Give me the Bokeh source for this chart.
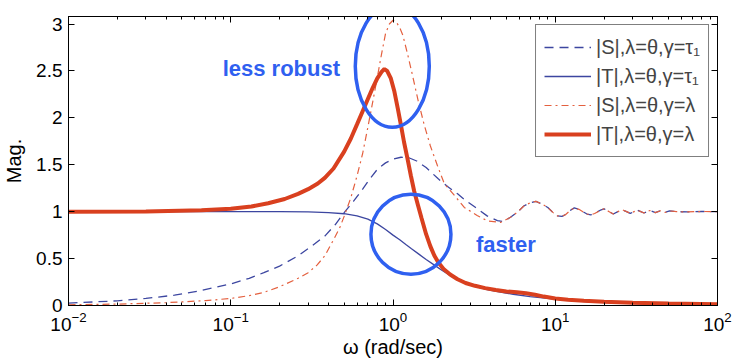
from bokeh.plotting import figure
from bokeh.models import (LogAxis, LinearAxis, FixedTicker, LogTicker,
                          CustomJSTickFormatter, Legend, LegendItem)
from bokeh.core.properties import value
from bokeh.embed import file_html
from bokeh.resources import INLINE

# ---------------- data ----------------
# |S|, lambda=theta, gamma=tau1  (blue dashed)
w_S_tau = [0.01, 0.02, 0.03, 0.045, 0.066, 0.1, 0.13, 0.16, 0.2, 0.26, 0.32, 0.38,
           0.44, 0.5, 0.57, 0.65, 0.72, 0.8, 0.9, 1.0, 1.12, 1.25, 1.4, 1.6, 1.9,
           2.2, 2.5, 2.8, 3.2, 3.8, 4.4, 4.8, 5.3, 5.9, 6.4, 7.0, 7.6, 8.2, 9.0,
           9.7, 10.3, 11.0, 11.6, 12.3, 13.1, 14.0, 14.8, 15.7, 16.6, 17.5, 18.3,
           19.2, 20.0, 21.5, 22.8, 24.3, 25.9, 27.5, 29.0, 30.6, 32.1, 33.7, 35.2,
           36.8, 38.3, 41.4, 44.5, 47.6, 50.7, 56, 65, 80, 100]
S_tau = [0.025, 0.05, 0.075, 0.11, 0.16, 0.23, 0.29, 0.35, 0.42, 0.53, 0.64, 0.74,
         0.86, 0.99, 1.11, 1.24, 1.35, 1.45, 1.52, 1.56, 1.58, 1.575, 1.54, 1.47,
         1.35, 1.26, 1.19, 1.12, 1.05, 0.955, 0.905, 0.895, 0.94, 1.0, 1.06,
         1.095, 1.11, 1.085, 1.045, 0.99, 0.956, 0.95, 0.97, 1.01, 1.04, 1.025,
         1.0, 0.975, 0.967, 0.98, 1.0, 1.02, 1.03, 1.0, 0.975, 1.0, 1.02, 1.0,
         0.982, 1.0, 1.015, 1.0, 0.986, 1.0, 1.012, 0.99, 1.01, 0.992, 1.008,
         1.0, 0.997, 1.002, 1.0]

# |T|, lambda=theta, gamma=tau1  (blue solid)
w_T_tau = [0.01, 0.03, 0.1, 0.2, 0.3, 0.4, 0.5, 0.6, 0.7, 0.8, 0.9, 1.0, 1.1, 1.2,
           1.3, 1.45, 1.6, 1.8, 2.0, 2.3, 2.7, 3.2, 3.8, 4.5, 5.5, 7.0, 9.0, 12,
           16, 25, 40, 60, 100]
T_tau = [1.0, 1.0, 1.0, 1.0, 0.997, 0.99, 0.978, 0.955, 0.92, 0.87, 0.81, 0.75,
         0.70, 0.65, 0.605, 0.545, 0.49, 0.43, 0.375, 0.31, 0.25, 0.205, 0.17,
         0.145, 0.12, 0.095, 0.075, 0.055, 0.04, 0.025, 0.015, 0.01, 0.006]

# |S|, lambda=theta, gamma=lambda  (red dash-dot)
w_S_lam = [0.01, 0.02, 0.04, 0.07, 0.1, 0.13, 0.16, 0.2, 0.26, 0.3, 0.34, 0.38,
           0.43, 0.47, 0.5, 0.55, 0.6, 0.65, 0.7, 0.75, 0.8, 0.85, 0.9, 0.95, 1.0,
           1.05, 1.1, 1.15, 1.23, 1.32, 1.43, 1.56, 1.7, 1.88, 2.07, 2.4, 2.75,
           3.3, 3.83, 4.6, 5.3, 5.9, 6.4, 7.0, 7.6, 8.2, 9.0, 9.7, 10.3, 11.0,
           11.6, 12.3, 13.1, 14.0, 14.8, 15.7, 16.6, 17.5, 18.3, 19.2, 20.0, 21.5,
           22.8, 24.3, 25.9, 27.5, 29.0, 30.6, 32.1, 33.7, 35.2, 36.8, 38.3, 41.4,
           44.5, 47.6, 50.7, 56, 65, 80, 100]
S_lam = [0.008, 0.015, 0.03, 0.052, 0.075, 0.105, 0.14, 0.2, 0.29, 0.35, 0.43,
         0.53, 0.70, 0.83, 0.95, 1.15, 1.38, 1.62, 1.90, 2.17, 2.43, 2.68, 2.90,
         3.0, 3.04, 3.02, 2.96, 2.88, 2.68, 2.45, 2.18, 1.92, 1.70, 1.49, 1.30,
         1.17, 1.045, 0.96, 0.90, 0.885, 0.94, 1.0, 1.06, 1.095, 1.11, 1.085,
         1.045, 0.99, 0.956, 0.95, 0.97, 1.01, 1.04, 1.025, 1.0, 0.975, 0.967,
         0.98, 1.0, 1.02, 1.03, 1.0, 0.975, 1.0, 1.02, 1.0, 0.982, 1.0, 1.015,
         1.0, 0.986, 1.0, 1.012, 0.99, 1.01, 0.992, 1.008, 1.0, 0.997, 1.002, 1.0]

# |T|, lambda=theta, gamma=lambda  (red thick)
w_T_lam = [0.01, 0.03, 0.066, 0.1, 0.134, 0.17, 0.215, 0.26, 0.3, 0.344, 0.38,
           0.43, 0.5, 0.55, 0.6, 0.65, 0.7, 0.75, 0.8, 0.85, 0.885, 0.92, 0.97,
           1.02, 1.07, 1.12, 1.17, 1.23, 1.29, 1.35, 1.42, 1.5, 1.6, 1.7, 1.8,
           1.9, 2.05, 2.25, 2.5, 2.8, 3.2, 3.7, 4.3, 5.0, 5.8, 6.6, 7.5, 8.5, 10,
           12, 15, 20, 30, 50, 100]
T_lam = [1.0, 1.003, 1.015, 1.03, 1.055, 1.09, 1.135, 1.19, 1.24, 1.30, 1.36,
         1.46, 1.64, 1.78, 1.93, 2.07, 2.20, 2.32, 2.42, 2.49, 2.52, 2.50, 2.42,
         2.28, 2.10, 1.92, 1.74, 1.56, 1.38, 1.22, 1.08, 0.93, 0.76, 0.63, 0.53,
         0.46, 0.39, 0.33, 0.28, 0.24, 0.21, 0.185, 0.165, 0.15, 0.14, 0.13,
         0.115, 0.095, 0.075, 0.062, 0.05, 0.04, 0.03, 0.02, 0.012]

legend_labels = ["|S|,λ=θ,γ=τ₁", "|T|,λ=θ,γ=τ₁", "|S|,λ=θ,γ=λ", "|T|,λ=θ,γ=λ"]
y_ticks = [0, 0.5, 1, 1.5, 2, 2.5, 3]

# annotations
note_text = ["less robust", "faster"]
note_x = [0.205, 4.96]
note_y = [2.53, 0.645]
ell_x = [0.99, 1.29]
ell_y = [2.55, 0.76]
ell_w = [74, 80]
ell_h = [122, 80]

# ---------------- figure ----------------
FONT = "Liberation Sans"
BLUE = "#3c46a0"
RED = "#d9401f"
RED_LIGHT = "#e4603f"
ANNOT = "#2f60f0"

p = figure(width=735, height=361, x_axis_type="log", x_range=(0.01, 100),
           y_range=(0, 3.08), output_backend="svg", toolbar_location=None,
           min_border_left=67, min_border_right=18, min_border_top=16,
           min_border_bottom=56)
p.grid.visible = False
p.outline_line_color = "black"
p.outline_line_width = 1
p.background_fill_color = "white"
p.border_fill_color = "white"

r1 = p.line(w_S_tau, S_tau, line_color=BLUE, line_width=1.3, line_dash="9 6")
r2 = p.line(w_T_tau, T_tau, line_color=BLUE, line_width=1.3)
r3 = p.line(w_S_lam, S_lam, line_color=RED_LIGHT, line_width=1.2, line_dash="7 4 2 4")
r4 = p.line(w_T_lam, T_lam, line_color=RED, line_width=4)

p.ellipse(x=ell_x, y=ell_y, width=ell_w, height=ell_h, width_units="screen",
          height_units="screen", fill_color=None, line_color=ANNOT, line_width=3.5)
p.text(x=note_x, y=note_y, text=note_text, text_font=value(FONT),
       text_font_style="bold", text_font_size="22px", text_color=ANNOT,
       text_align="center", text_baseline="middle")

# axes
p.xaxis.ticker = LogTicker(num_minor_ticks=10)
p.yaxis.ticker = FixedTicker(ticks=y_ticks)
p.yaxis.formatter = CustomJSTickFormatter(code="return tick.toString();")
p.xaxis.axis_label = "ω (rad/sec)"
p.yaxis.axis_label = "Mag."

for ax in [p.xaxis[0], p.yaxis[0]]:
    ax.major_tick_in = 6
    ax.major_tick_out = 0
    ax.minor_tick_in = 3
    ax.minor_tick_out = 0
    ax.axis_line_color = "black"
    ax.major_tick_line_color = "black"
    ax.minor_tick_line_color = "black"
    ax.major_label_text_font = FONT
    ax.major_label_text_font_size = "19px"
    ax.major_label_text_color = "black"
    ax.axis_label_text_font = FONT
    ax.axis_label_text_font_size = "20px"
    ax.axis_label_text_font_style = "normal"
    ax.axis_label_text_color = "black"
p.xaxis.major_label_standoff = 6
p.xaxis.axis_label_standoff = 2
p.yaxis.major_label_standoff = 6
p.yaxis.axis_label_standoff = 8
p.yaxis.minor_tick_in = 0

blank = CustomJSTickFormatter(code="return '';")
top = LogAxis(ticker=LogTicker(num_minor_ticks=10), formatter=blank,
              major_tick_in=6, major_tick_out=0, minor_tick_in=3, minor_tick_out=0,
              major_label_text_font_size="2px", major_label_standoff=0,
              axis_line_color="black")
right = LinearAxis(ticker=FixedTicker(ticks=y_ticks), formatter=blank,
                   major_tick_in=6, major_tick_out=0, minor_tick_in=0, minor_tick_out=0,
                   major_label_text_font_size="2px", major_label_standoff=0,
                   axis_line_color="black")
p.add_layout(top, "above")
p.add_layout(right, "right")

legend = Legend(items=[LegendItem(label=legend_labels[0], renderers=[r1]),
                       LegendItem(label=legend_labels[1], renderers=[r2]),
                       LegendItem(label=legend_labels[2], renderers=[r3]),
                       LegendItem(label=legend_labels[3], renderers=[r4])],
                location="top_right")
legend.margin = 8
legend.padding = 8
legend.spacing = 1
legend.glyph_width = 47
legend.glyph_height = 28
legend.label_height = 28
legend.label_standoff = 5
legend.label_text_font = FONT
legend.label_text_font_size = "20px"
legend.label_text_line_height = 1.0
legend.border_line_color = "black"
legend.border_line_width = 1
legend.background_fill_alpha = 1
p.add_layout(legend, "center")

open("out.html", "w").write(file_html(p, INLINE))
